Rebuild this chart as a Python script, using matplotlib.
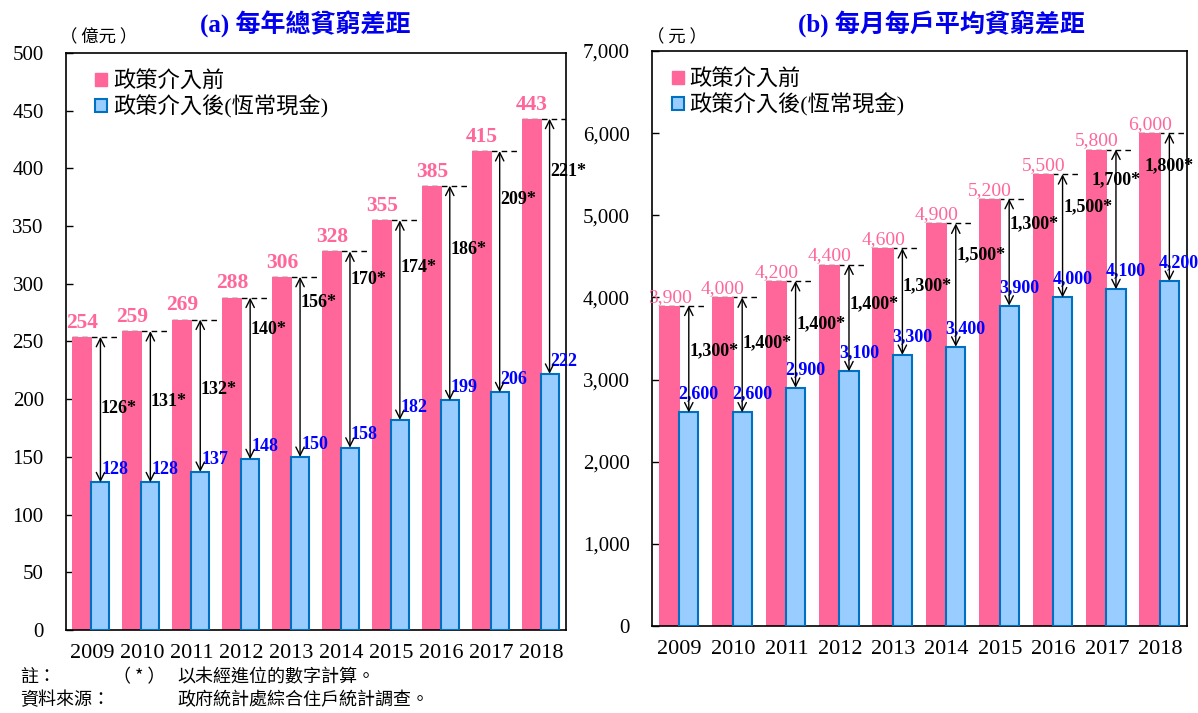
import matplotlib
matplotlib.use("Agg")
import matplotlib.pyplot as plt
from matplotlib.patches import Patch
from matplotlib.ticker import FuncFormatter, MultipleLocator

plt.rcParams['font.family'] = ['Liberation Serif', 'Noto Sans CJK TC']
CJK = ['Noto Sans CJK TC', 'DejaVu Sans']

years = ['2009', '2010', '2011', '2012', '2013', '2014', '2015', '2016', '2017', '2018']

# (a) total poverty gap, HK$ 100 million
total_before = [254, 259, 269, 288, 306, 328, 355, 385, 415, 443]
total_after = [128, 128, 137, 148, 150, 158, 182, 199, 206, 222]
total_diff = [126, 131, 132, 140, 156, 170, 174, 186, 209, 221]

# (b) average monthly poverty gap per household, HK$
hh_before = [3900, 4000, 4200, 4400, 4600, 4900, 5200, 5500, 5800, 6000]
hh_after = [2600, 2600, 2900, 3100, 3300, 3400, 3900, 4000, 4100, 4200]
hh_diff = [1300, 1400, 1400, 1400, 1300, 1500, 1300, 1500, 1700, 1800]

# where the gap labels sit (data units)
total_diff_y = [192, 198, 208, 260, 284, 304, 314, 330, 373, 397]
hh_diff_y = [3354, 3451, 3682, 3925, 4144, 4515, 4897, 5104, 5432, 5602]

PINK = '#FF6699'
BLUE_FILL = '#99CCFF'
BLUE_EDGE = '#0070C0'
BLUE_TXT = '#0000FF'

fig = plt.figure(figsize=(11.98, 7.13), dpi=100)
ax1 = fig.add_axes([0.0551, 0.1164, 0.4174, 0.8093])
ax2 = fig.add_axes([0.5442, 0.1220, 0.4466, 0.8065])


def panel(ax, before, after, diffs, diff_y, ymax, step, comma, dash_end, leg_x):
    x = list(range(len(years)))
    xp = [i - 0.19 for i in x]
    xb = [i + 0.17 for i in x]
    ax.bar(xp, before, width=0.40, color=PINK, zorder=2)
    ax.bar(xb, after, width=0.36, color=BLUE_FILL, edgecolor=BLUE_EDGE,
           linewidth=1.5, zorder=3)
    fmt = (lambda v: f"{v:,}") if comma else (lambda v: str(v))
    for i in x:
        ax.plot([i - 0.39, i + dash_end], [before[i], before[i]], color='black',
                lw=1, linestyle=(0, (4, 3)), zorder=1)
        ax.annotate('', xy=(xb[i], after[i]), xytext=(xb[i], before[i]),
                    arrowprops=dict(arrowstyle='<->', lw=1, color='black',
                                    shrinkA=0, shrinkB=0, mutation_scale=15),
                    zorder=4)
        if comma:
            ax.annotate(fmt(before[i]), (xp[i], before[i]), xytext=(0, 0),
                        textcoords='offset points', ha='center', va='bottom',
                        color=PINK, fontsize=14)
            ax.annotate(fmt(after[i]), (i - 0.02, after[i]), xytext=(0, 7),
                        textcoords='offset points', ha='left', va='bottom',
                        color=BLUE_TXT, fontsize=13, fontweight='bold')
            ha = 'center' if i >= 8 else 'left'
            ax.text(xb[i] + (0 if i >= 8 else 0.01), diff_y[i], fmt(diffs[i]) + '*',
                    ha=ha, va='center', fontsize=13, fontweight='bold', zorder=5)
        else:
            ax.annotate(fmt(before[i]), (xp[i], before[i]), xytext=(0, 3),
                        textcoords='offset points', ha='center', va='bottom',
                        color=PINK, fontsize=15.5, fontweight='bold')
            ax.annotate(fmt(after[i]), (xb[i] + 0.02, after[i]), xytext=(0, 3),
                        textcoords='offset points', ha='left', va='bottom',
                        color=BLUE_TXT, fontsize=13, fontweight='bold')
            ax.text(xb[i] + 0.01, diff_y[i], fmt(diffs[i]) + '*',
                    ha='left', va='center', fontsize=13, fontweight='bold', zorder=5)
    ax.set_xlim(-0.52, 9.5)
    ax.set_ylim(0, ymax)
    ax.yaxis.set_major_locator(MultipleLocator(step))
    if comma:
        ax.yaxis.set_major_formatter(FuncFormatter(lambda v, p: f"{int(v):,}"))
    ax.set_xticks(x)
    ax.set_xticklabels(years)
    ax.tick_params(axis='y', direction='in', length=5, width=1, labelsize=15, pad=16)
    ax.tick_params(axis='x', length=0, labelsize=16, pad=10)
    for s in ax.spines.values():
        s.set_linewidth(1.2)
    handles = [Patch(facecolor=PINK, edgecolor=PINK),
               Patch(facecolor=BLUE_FILL, edgecolor=BLUE_EDGE, linewidth=1.5)]
    ax.legend(handles, ['政策介入前', '政策介入後(恆常現金)'], loc='upper left',
              bbox_to_anchor=(leg_x, 0.995), frameon=False, fontsize=16,
              handlelength=0.55, handleheight=0.55, handletextpad=0.25,
              labelspacing=0.12, borderpad=0.2)


panel(ax1, total_before, total_after, total_diff, total_diff_y, 500, 50, False, 0.56, 0.027)
panel(ax2, hh_before, hh_after, hh_diff, hh_diff_y, 7000, 1000, True, 0.50, 0.008)

fig.text(0.2546, 0.966, '(a) 每年總貧窮差距', ha='center', va='center',
         color='#0000EE', fontsize=18, fontweight='bold')
fig.text(0.786, 0.966, '(b) 每月每戶平均貧窮差距', ha='center', va='center',
         color='#0000EE', fontsize=18, fontweight='bold')
fig.text(0.050, 0.947, '（ 億元 ）', ha='left', va='center', fontsize=12.5, family=CJK)
fig.text(0.540, 0.948, '（ 元 ）', ha='left', va='center', fontsize=12.5, family=CJK)

fig.text(0.017, 0.050, '註：', ha='left', va='center', fontsize=13, family=CJK)
fig.text(0.094, 0.050, '（ * ）', ha='left', va='center', fontsize=13, family=CJK)
fig.text(0.148, 0.050, '以未經進位的數字計算。', ha='left', va='center', fontsize=13, family=CJK)
fig.text(0.017, 0.018, '資料來源：', ha='left', va='center', fontsize=13, family=CJK)
fig.text(0.148, 0.018, '政府統計處綜合住戶統計調查。', ha='left', va='center', fontsize=13, family=CJK)

fig.savefig('out.png', dpi=100)
